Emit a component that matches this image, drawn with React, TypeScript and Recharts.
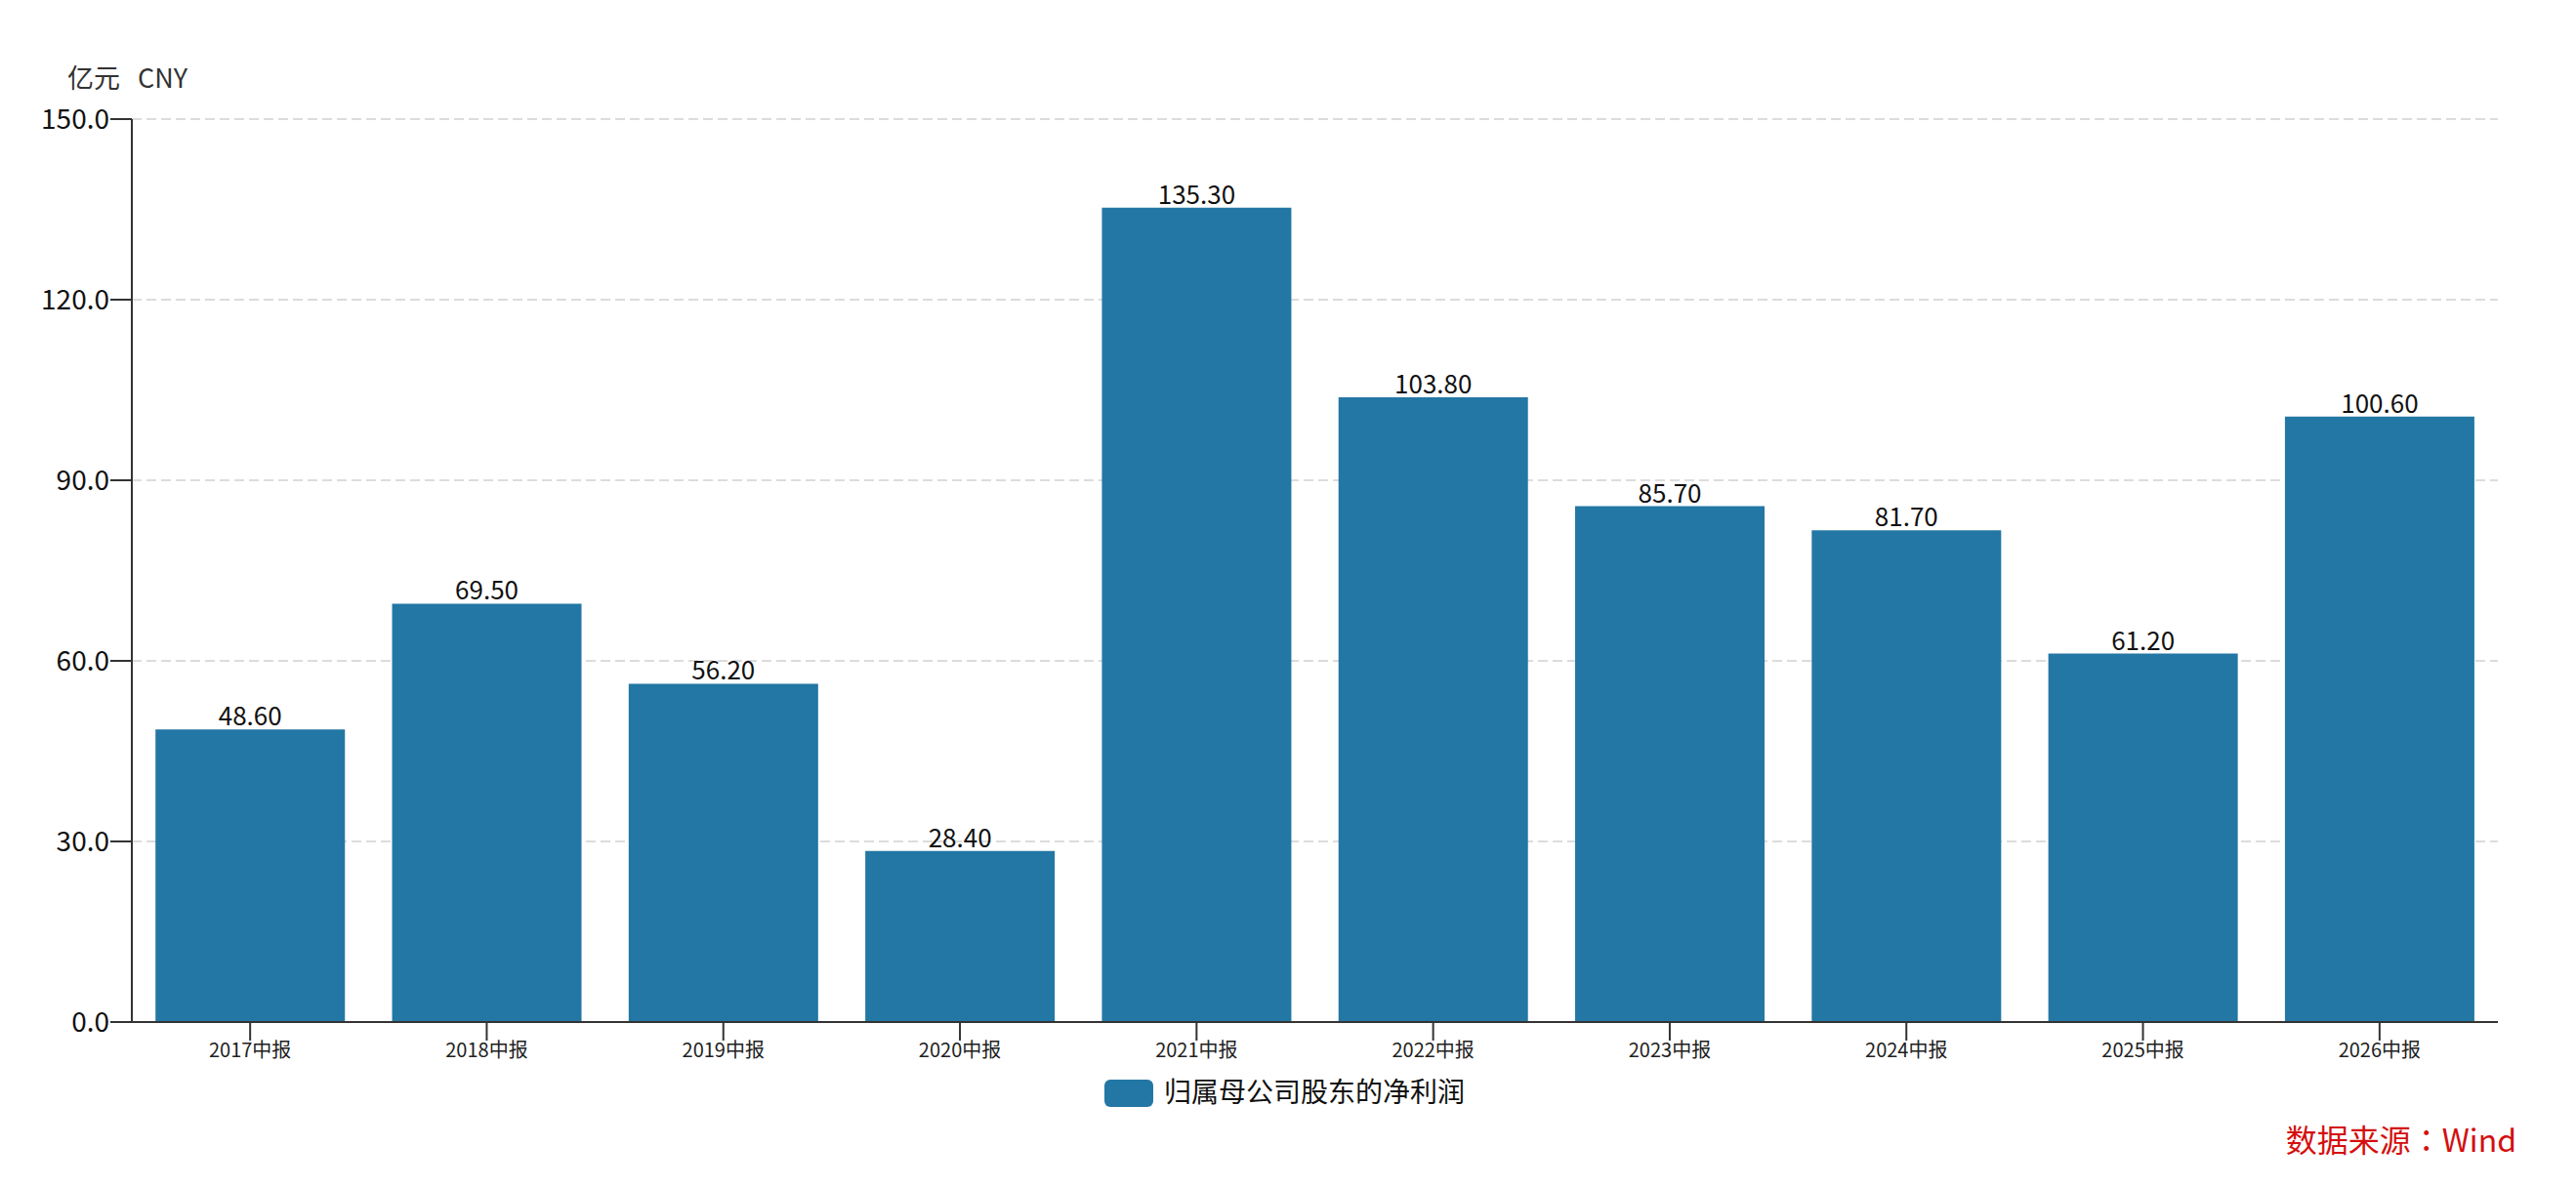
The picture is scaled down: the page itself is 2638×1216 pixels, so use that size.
import React from "react";
import { Bar, BarChart, CartesianGrid, LabelList, XAxis, YAxis } from "recharts";

const categories = [
  "2017中报",
  "2018中报",
  "2019中报",
  "2020中报",
  "2021中报",
  "2022中报",
  "2023中报",
  "2024中报",
  "2025中报",
  "2026中报",
];
const netProfit = [48.6, 69.5, 56.2, 28.4, 135.3, 103.8, 85.7, 81.7, 61.2, 100.6];
const yTicks = [0, 30, 60, 90, 120, 150];
const seriesName = "归属母公司股东的净利润";
const unitLabel = ["亿元", "CNY"];
const sourceLabel = "数据来源：Wind";

const W = 2638;
const H = 1216;
const FONT = "'Noto Sans CJK SC', 'Noto Sans', sans-serif";
const BAR = "#2377a4";

export default function App() {
  const data = categories.map((name, i) => ({ name, value: netProfit[i] }));
  const [srcHead, srcTail] = sourceLabel.split("：");

  return (
    <div style={{ position: "absolute", left: 0, top: 0, width: W, height: H, background: "#fff", fontFamily: FONT }}>
      <BarChart
        width={W}
        height={H}
        data={data}
        margin={{ top: 122, right: 80, left: 0, bottom: 109 }}
        barCategoryGap="10%"
      >
        <CartesianGrid vertical={false} strokeDasharray="10 5" stroke="#dcdcdc" strokeWidth={2} />
        <XAxis
          dataKey="name"
          height={60}
          tickSize={19}
          tickMargin={3}
          axisLine={{ stroke: "#333", strokeWidth: 2 }}
          tickLine={{ stroke: "#333", strokeWidth: 2 }}
          tick={{ fontSize: 20, fill: "#222", fontFamily: FONT }}
          interval={0}
        />
        <YAxis
          width={135}
          domain={[0, 150]}
          ticks={yTicks}
          tickFormatter={(v: number) => v.toFixed(1)}
          tickSize={22}
          tickMargin={1}
          axisLine={{ stroke: "#333", strokeWidth: 2 }}
          tickLine={{ stroke: "#333", strokeWidth: 2 }}
          tick={{ fontSize: 28, fill: "#111", fontFamily: FONT }}
        />
        <Bar dataKey="value" name={seriesName} fill={BAR} isAnimationActive={false}>
          <LabelList
            dataKey="value"
            position="top"
            offset={4}
            formatter={(v: number) => Number(v).toFixed(2)}
            style={{ fontSize: 26, fill: "#111", fontFamily: FONT }}
          />
        </Bar>
      </BarChart>
      <svg
        width={W}
        height={H}
        style={{ position: "absolute", left: 0, top: 0, pointerEvents: "none" }}
      >
        <text x={69} y={90} fontSize={27} fill="#333" fontFamily={FONT}>
          {unitLabel[0]}
        </text>
        <text x={141} y={90} fontSize={27} fill="#333" fontFamily={FONT}>
          {unitLabel[1]}
        </text>
        <rect x={1131} y={1106} width={50} height={28} rx={6} fill={BAR} />
        <text x={1192} y={1129} fontSize={28} fill="#111" fontFamily={FONT}>
          {seriesName}
        </text>
        <text x={2577} y={1180} fontSize={32} fill="#d40f0f" fontFamily={FONT} textAnchor="end">
          <tspan>{srcHead}</tspan>
          <tspan fontFamily="'Noto Sans CJK TC', 'Noto Sans CJK SC', sans-serif">：</tspan>
          <tspan>{srcTail}</tspan>
        </text>
      </svg>
    </div>
  );
}
